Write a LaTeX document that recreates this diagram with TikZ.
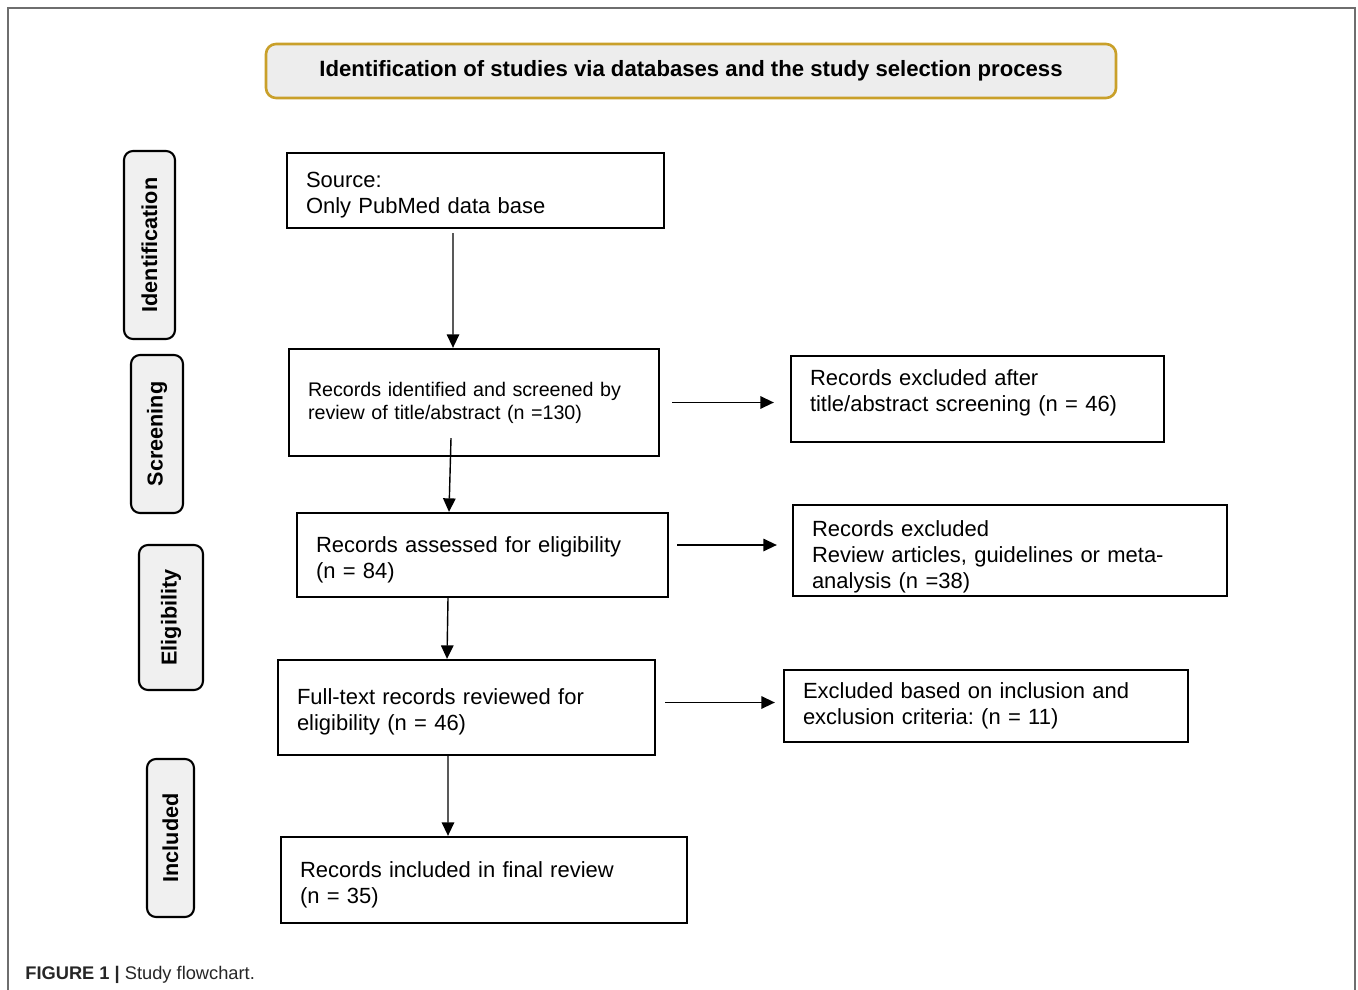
\documentclass[tikz,border=0pt]{standalone}
\usepackage{fontspec}
\setmainfont{Liberation Sans}
\usetikzlibrary{arrows.meta}

\definecolor{titlegold}{HTML}{C9A02A}
\definecolor{titlefill}{HTML}{EDEDED}
\definecolor{labelgray}{HTML}{F0F0F0}
\definecolor{framegray}{HTML}{6E6E6E}

\frenchspacing
% strut that pushes the first line of a box down a little
\newcommand{\toppad}[1]{\rule{0pt}{#1}}

\begin{document}
\begin{tikzpicture}[
  flowbox/.style={draw, line width=1.3pt, align=left, inner xsep=0.38cm, inner ysep=0pt,
    font=\fontsize{12.5}{14.8}\selectfont},
  sidelabel/.style={draw, line width=1.2pt, rounded corners=0.18cm, fill=labelgray,
    rotate=90, inner sep=0pt, font=\fontsize{12.3}{15}\selectfont\bfseries},
  arr/.style={line width=0.8pt, -{Triangle[length=0.27cm,width=0.25cm]}}
]

  \useasboundingbox (0,0) rectangle (27.16,-19.8);

  % outer frame (open at the bottom)
  \draw[framegray, line width=1pt] (0.16,-19.8) -- (0.16,-0.16) -- (27.1,-0.16) -- (27.1,-19.8);

  % heading
  \node[draw=titlegold, fill=titlefill, line width=1.5pt, rounded corners=0.2cm,
    minimum width=17cm, minimum height=1.08cm,
    font=\fontsize{12.6}{15}\selectfont\bfseries] (title) at (13.82,-1.42)
    {Identification of studies via databases and the study selection process};

  % stage labels on the left
  \node[sidelabel, minimum width=3.76cm, minimum height=1.02cm] (lidn) at (2.99,-4.9) {Identification};
  \node[sidelabel, minimum width=3.16cm, minimum height=1.04cm] (lscr) at (3.14,-8.68) {Screening};
  \node[sidelabel, minimum width=2.9cm, minimum height=1.28cm] (lelg) at (3.42,-12.35) {Eligibility};
  \node[sidelabel, minimum width=3.16cm, minimum height=0.94cm] (linc) at (3.41,-16.76) {Included};

  % main column
  \node[flowbox, text width=6.78cm, minimum height=1.5cm] (src) at (9.51,-3.81)
    {\toppad{14pt}Source:\\Only PubMed data base};
  \node[flowbox, text width=6.64cm, minimum height=2.14cm, font=\fontsize{11.2}{13.1}\selectfont] (scr) at (9.48,-8.05)
    {Records identified and screened by\\review of title/abstract (n =130)};
  \node[flowbox, text width=6.66cm, minimum height=1.68cm] (elig) at (9.65,-11.1)
    {\toppad{14pt}Records assessed for eligibility\\(n = 84)};
  \node[flowbox, text width=6.78cm, minimum height=1.9cm] (full) at (9.33,-14.15)
    {\toppad{14pt}Full-text records reviewed for\\eligibility (n = 46)};
  \node[flowbox, text width=7.36cm, minimum height=1.72cm] (incl) at (9.68,-17.6)
    {\toppad{14pt}Records included in final review\\(n = 35)};

  % exclusions on the right
  \node[flowbox, text width=6.7cm, minimum height=1.72cm] (exA) at (19.55,-7.98)
    {Records excluded after\\title/abstract screening (n = 46)\rule[-10pt]{0pt}{1pt}};
  \node[flowbox, text width=7.92cm, minimum height=1.82cm] (exB) at (20.2,-11.01)
    {\toppad{16.5pt}Records excluded\\Review articles, guidelines or meta-\\analysis (n =38)};
  \node[flowbox, text width=7.32cm, minimum height=1.44cm] (exC) at (19.72,-14.12)
    {Excluded based on inclusion and\\exclusion criteria: (n = 11)};

  % downward arrows
  \draw[arr] ([xshift=-0.45cm,yshift=-0.08cm]src.south) -- ([xshift=-0.42cm]scr.north);
  \draw[arr] ([xshift=-0.46cm,yshift=0.38cm]scr.south) -- ([xshift=-0.67cm]elig.north);
  \draw[arr] ([xshift=-0.69cm]elig.south) -- ([xshift=-0.39cm]full.north);
  \draw[arr] ([xshift=-0.37cm]full.south) -- ([xshift=-0.72cm]incl.north);

  % arrows to the exclusions
  \draw[arr, shorten <=0.24cm, shorten >=0.32cm] (scr.east) -- (scr.east -| exA.west);
  \draw[arr, shorten <=0.16cm, shorten >=0.3cm] ([yshift=0.2cm]elig.east) -- ([yshift=0.2cm]elig.east -| exB.west);
  \draw[arr, shorten <=0.18cm, shorten >=0.16cm] ([yshift=0.1cm]full.east) -- ([yshift=0.1cm]full.east -| exC.west);

  % caption
  \node[anchor=base west, inner sep=0pt, text=black!85,
    font=\fontsize{10.4}{12}\selectfont] (cap) at (0.5,-19.58)
    {\textbf{FIGURE 1 |} Study flowchart.};

\end{tikzpicture}
\end{document}
